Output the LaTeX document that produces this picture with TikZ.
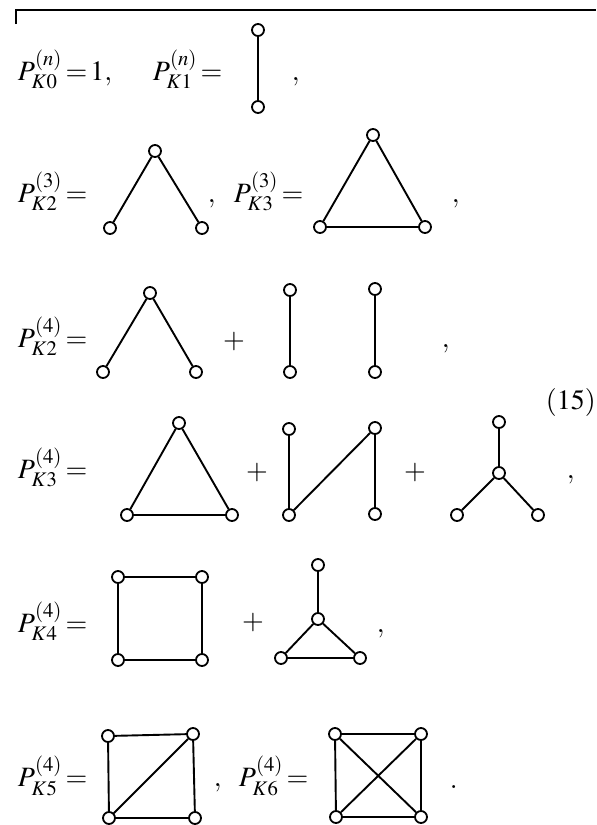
\documentclass[tikz,border=0pt]{standalone}
\usepackage{amsmath}
\usepackage{mathptmx}
\usepackage{tikz}
\usepackage{xcolor}

\tikzset{
  vtx/.style={circle, draw, fill=white, line width=0.9pt, inner sep=0pt, minimum size=6pt},
  lbl/.style={anchor=base west, inner sep=0pt, font=\fontsize{14}{16}\selectfont},
  op/.style={inner sep=0pt, font=\fontsize{14}{16}\selectfont},
}

\begin{document}
\begin{tikzpicture}[x=0.5pt, y=-0.5pt, line width=0.95pt]
    \useasboundingbox (0,0) rectangle (596,825);
    % Top rule
    \draw[line width=0.8pt] (16,24) -- (16,10) -- (596,10);
    % Row 1
    \node[lbl] (p0) at (17,80) {$P^{(n)}_{K0}\,{=}\,1,$};
    \node[lbl] (p1) at (152,80) {$P^{(n)}_{K1}\,{=}$};
    \node[vtx] (a1) at (258,30) {};
    \node[vtx] (b1) at (258,107) {};
    \draw (a1) -- (b1);
    \node[lbl] (c1) at (291,80) {$,$};
    % Row 2
    \node[lbl] (p2) at (17,202) {$P^{(3)}_{K2}\,{=}$};
    \node[vtx] (a2) at (155,151) {};
    \node[vtx] (b2) at (110,228) {};
    \node[vtx] (d2) at (202,228) {};
    \draw (b2) -- (a2) -- (d2);
    \node[lbl] (c2) at (207,202) {$,$};
    \node[lbl] (p3) at (233,202) {$P^{(3)}_{K3}\,{=}$};
    \node[vtx] (a3) at (373,135) {};
    \node[vtx] (b3) at (320,227) {};
    \node[vtx] (d3) at (425,227) {};
    \draw (b3) -- (a3) -- (d3) -- (b3);
    \node[lbl] (c3) at (451,202) {$,$};
    % Row 3
    \node[lbl] (p4) at (17,347) {$P^{(4)}_{K2}\,{=}$};
    \node[vtx] (a4) at (150,293) {};
    \node[vtx] (b4) at (103,372) {};
    \node[vtx] (d4) at (196,372) {};
    \draw (b4) -- (a4) -- (d4);
    \node[op] (s4) at (234,342) {$+$};
    \node[vtx] (e4) at (290,290) {};
    \node[vtx] (f4) at (290,372) {};
    \node[vtx] (g4) at (375,289) {};
    \node[vtx] (h4) at (375,372) {};
    \draw (e4) -- (f4);
    \draw (g4) -- (h4);
    \node[lbl] (c4) at (441,347) {$,$};
    % Row 4
    \node[lbl] (eq) at (545,409) {$(15)$};
    \node[lbl] (p5) at (17,478) {$P^{(4)}_{K3}\,{=}$};
    \node[vtx] (a5) at (179,423) {};
    \node[vtx] (b5) at (127,515) {};
    \node[vtx] (d5) at (232,515) {};
    \draw (b5) -- (a5) -- (d5) -- (b5);
    \node[op] (s5) at (257,473) {$+$};
    \node[vtx] (e5) at (289,429) {};
    \node[vtx] (f5) at (289,515) {};
    \node[vtx] (g5) at (375,428) {};
    \node[vtx] (h5) at (375,514) {};
    \draw (e5) -- (f5) -- (g5) -- (h5);
    \node[op] (t5) at (415,472) {$+$};
    \node[vtx] (k5) at (499,422) {};
    \node[vtx] (m5) at (499,473) {};
    \node[vtx] (l5) at (457,515) {};
    \node[vtx] (r5) at (538,515) {};
    \draw (k5) -- (m5);
    \draw (l5) -- (m5) -- (r5);
    \node[lbl] (c5) at (566,478) {$,$};
    % Row 5
    \node[lbl] (p6) at (17,632) {$P^{(4)}_{K4}\,{=}$};
    \node[vtx] (a6) at (118,577) {};
    \node[vtx] (b6) at (202,577) {};
    \node[vtx] (d6) at (202,660) {};
    \node[vtx] (e6) at (118,660) {};
    \draw (a6) -- (b6) -- (d6) -- (e6) -- (a6);
    \node[op] (s6) at (253,622) {$+$};
    \node[vtx] (k6) at (318,565) {};
    \node[vtx] (m6) at (318,619) {};
    \node[vtx] (l6) at (281,658) {};
    \node[vtx] (r6) at (360,658) {};
    \draw (k6) -- (m6);
    \draw (l6) -- (m6) -- (r6) -- (l6);
    \node[lbl] (c6) at (376,632) {$,$};
    % Row 6
    \node[lbl] (p7) at (17,786) {$P^{(4)}_{K5}\,{=}$};
    \node[vtx] (a7) at (108,736) {};
    \node[vtx] (b7) at (193,734) {};
    \node[vtx] (d7) at (195,818) {};
    \node[vtx] (e7) at (109,818) {};
    \draw (a7) -- (b7) -- (d7) -- (e7) -- (a7);
    \draw (e7) -- (b7);
    \node[lbl] (c7) at (213,786) {$,$};
    \node[lbl] (p8) at (238,786) {$P^{(4)}_{K6}\,{=}$};
    \node[vtx] (a8) at (335,734) {};
    \node[vtx] (b8) at (421,734) {};
    \node[vtx] (d8) at (421,817) {};
    \node[vtx] (e8) at (336,817) {};
    \draw (a8) -- (b8) -- (d8) -- (e8) -- (a8);
    \draw (a8) -- (d8);
    \draw (e8) -- (b8);
    \node[lbl] (c8) at (449,788) {$.$};
\end{tikzpicture}
\end{document}
